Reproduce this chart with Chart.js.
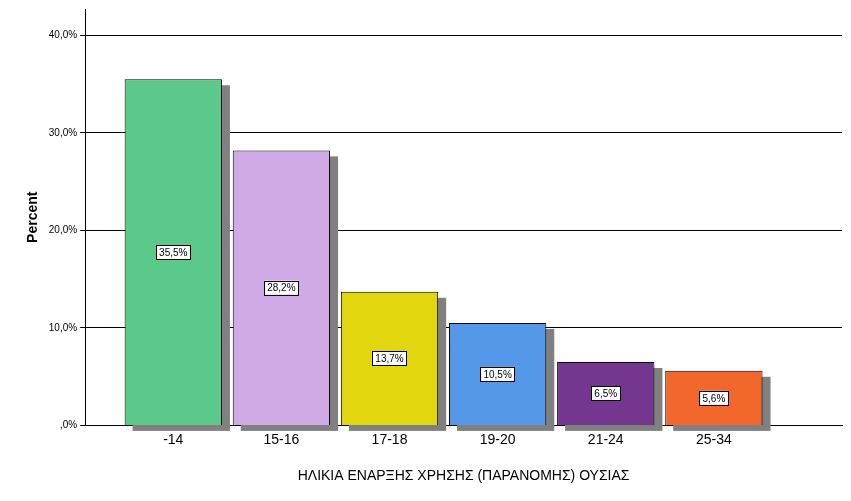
<!DOCTYPE html>
<html><head><meta charset="utf-8">
<script src="https://cdn.jsdelivr.net/npm/chart.js@4"></script>
<style>body{margin:0;background:#fff}#wrap{width:851px;height:501px}</style>
</head><body><div id="wrap"><canvas id="c"></canvas></div>
<script>
const categories = ['-14', '15-16', '17-18', '19-20', '21-24', '25-34'];
const percents = [35.5, 28.2, 13.7, 10.5, 6.5, 5.6];
const colors = ['#5bc98a', '#d0aae6', '#e2d60f', '#5598e8', '#74368f', '#f2672b'];
const yTicks = [0, 10, 20, 30, 40];

// gray drop shadows behind bars, value boxes in the middle
const shadowPlugin = {
    id: 'shadows',
    beforeDatasetsDraw(chart) {
        const ctx = chart.ctx;
        ctx.save();
        ctx.fillStyle = '#808080';
        chart.getDatasetMeta(0).data.forEach(b => {
            ctx.fillRect(b.x - b.width / 2 + 8, b.y + 6, b.width, b.base - b.y);
        });
        ctx.restore();
    },
    afterDatasetsDraw(chart) {
        const ctx = chart.ctx;
        ctx.save();
        ctx.font = '10px Arial, "Liberation Sans", sans-serif';
        ctx.textAlign = 'center';
        ctx.textBaseline = 'middle';
        chart.getDatasetMeta(0).data.forEach((b, i) => {
            const t = percents[i].toFixed(1).replace('.', ',') + '%';
            const w = ctx.measureText(t).width + 6;
            const cy = (b.y + b.base) / 2;
            ctx.fillStyle = '#fff';
            ctx.fillRect(b.x - w / 2, cy - 7, w, 14);
            ctx.strokeStyle = '#000';
            ctx.lineWidth = 1;
            ctx.strokeRect(Math.round(b.x - w / 2) + 0.5, Math.round(cy - 7) + 0.5, Math.round(w), 14);
            ctx.fillStyle = '#000';
            ctx.fillText(t, b.x, cy + 1);
        });
        ctx.restore();
    }
};

new Chart(document.getElementById('c'), {
    type: 'bar',
    data: {
        datasets: [{
            data: percents.map((v, i) => ({ x: i, y: v })),
            backgroundColor: colors,
            borderColor: '#000',
            borderWidth: 1,
            barPercentage: 0.9,
            categoryPercentage: 1.0
        }]
    },
    plugins: [shadowPlugin],
    options: {
        responsive: true,
        maintainAspectRatio: false,
        animation: false,
        layout: { padding: { top: 2, right: 9, left: 21, bottom: 12 } },
        plugins: { legend: { display: false }, tooltip: { enabled: false } },
        scales: {
            x: {
                type: 'linear',
                offset: false,
                min: -0.815,
                max: 6.185,
                afterBuildTicks: s => { s.ticks = categories.map((c, i) => ({ value: i })); },
                ticks: {
                    callback: v => categories[v],
                    color: '#000',
                    padding: 6,
                    font: { size: 14, family: 'Arial, "Liberation Sans", sans-serif' }
                },
                grid: { display: false, drawTicks: false },
                border: { color: '#000' },
                title: {
                    display: true,
                    text: 'ΗΛΙΚΙΑ ΕΝΑΡΞΗΣ ΧΡΗΣΗΣ (ΠΑΡΑΝΟΜΗΣ) ΟΥΣΙΑΣ',
                    color: '#000',
                    font: { size: 14, family: 'Arial, "Liberation Sans", sans-serif' },
                    padding: { top: 14 }
                }
            },
            y: {
                min: 0,
                max: 42.7,
                afterBuildTicks: s => { s.ticks = yTicks.map(v => ({ value: v })); },
                ticks: {
                    callback: v => v === 0 ? ',0%' : v.toFixed(1).replace('.', ',') + '%',
                    color: '#000',
                    font: { size: 10, family: 'Arial, "Liberation Sans", sans-serif' }
                },
                grid: { color: '#000', drawTicks: true, tickLength: 5 },
                border: { color: '#000' },
                title: {
                    display: true,
                    text: 'Percent',
                    color: '#000',
                    font: { size: 14, weight: 'bold', family: 'Arial, "Liberation Sans", sans-serif' }
                }
            }
        }
    }
});
</script></body></html>
